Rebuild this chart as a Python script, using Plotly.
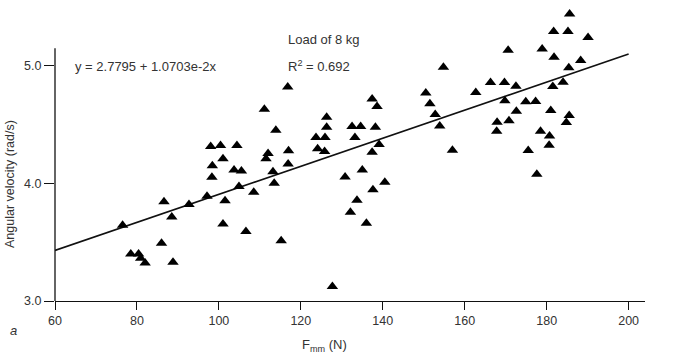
import plotly.graph_objects as go

# Data
f_mm = [76.5, 78.5, 80.4, 80.9, 82.0, 86.0, 86.6, 88.5, 88.8, 92.7,
        97.1, 98.0, 98.4, 98.3, 100.4, 101.0, 101.0, 101.5, 103.7, 104.4,
        105.5, 104.9, 106.6, 108.5, 111.1, 111.5, 112.0, 113.2, 113.5, 113.9,
        115.2, 116.8, 117.0, 116.9, 123.7, 124.1, 125.9, 125.8, 126.3, 126.3,
        127.7, 130.8, 132.1, 132.5, 134.6, 133.2, 133.7, 135.0, 136.0, 137.4,
        138.6, 138.2, 137.4, 139.1, 137.6, 140.5, 150.5, 151.5, 152.8, 153.9,
        154.8, 157.0, 162.7, 166.3, 169.7, 167.9, 167.8, 169.8, 170.6, 170.8,
        172.5, 172.6, 174.9, 177.3, 175.5, 177.6, 178.5, 178.9, 181.0, 180.7,
        180.6, 181.5, 181.7, 181.8, 184.0, 184.8, 185.5, 185.2, 185.4, 185.6,
        188.3, 190.1]
ang_vel = [3.644, 3.40, 3.40, 3.363, 3.323, 3.491, 3.845, 3.715, 3.329, 3.821,
           3.891, 4.313, 4.151, 4.053, 4.322, 4.209, 3.655, 3.853, 4.115, 4.322,
           4.106, 3.973, 3.59, 3.925, 4.631, 4.209, 4.255, 4.10, 4.002, 4.451,
           3.512, 4.819, 4.277, 4.166, 4.39, 4.294, 4.39, 4.271, 4.563, 4.478,
           3.123, 4.055, 3.755, 4.483, 4.483, 4.39, 3.857, 4.115, 3.661, 4.717,
           4.654, 4.478, 4.264, 4.33, 3.945, 4.009, 4.768, 4.677, 4.585, 4.489,
           4.987, 4.281, 4.773, 4.858, 4.858, 4.519, 4.444, 4.702, 5.132, 4.532,
           4.826, 4.614, 4.694, 4.696, 4.279, 4.077, 4.443, 5.142, 4.62, 4.404,
           4.325, 4.824, 5.292, 5.072, 4.861, 4.517, 4.577, 5.292, 4.983, 5.44,
           5.045, 5.241]

fit_x = [60, 200]
fit_y = [3.43, 5.10]

x_ticks = [60, 80, 100, 120, 140, 160, 180, 200]
y_ticks = [3.0, 4.0, 5.0]
y_tick_labels = ["3.0", "4.0", "5.0"]

font_fam = "Liberation Sans, Arial, sans-serif"
txt_col = "#333333"

fig = go.Figure()
fig.add_trace(go.Scatter(x=fit_x, y=fit_y, mode="lines",
                         line=dict(color="#111111", width=1.6),
                         hoverinfo="skip", showlegend=False))
fig.add_trace(go.Scatter(x=f_mm, y=ang_vel, mode="markers",
                         marker=dict(symbol="triangle-up", size=10, color="#000000",
                                     line=dict(width=0)),
                         cliponaxis=False, showlegend=False))

fig.update_layout(
    width=680, height=357,
    margin=dict(l=55, r=35, t=7, b=56),
    paper_bgcolor="white", plot_bgcolor="white",
    font=dict(family=font_fam, size=12, color=txt_col),
    xaxis=dict(range=[60, 204], tickvals=x_ticks, ticks="outside", ticklen=8,
               tickwidth=1.3, tickcolor="#111111", showline=True, linecolor="#111111",
               linewidth=1.3, showgrid=False, zeroline=False,
               tickfont=dict(size=12.5, color=txt_col)),
    yaxis=dict(range=[3.0, 5.5], tickvals=y_ticks, ticktext=y_tick_labels,
               ticks="outside", ticklen=10, tickwidth=1.3, tickcolor="#111111",
               showline=False, showgrid=False, zeroline=False,
               tickfont=dict(size=12.5, color=txt_col)),
    shapes=[dict(type="line", xref="paper", yref="y", x0=0, x1=0, y0=3.0, y1=5.15,
                 line=dict(color="#111111", width=1.3))],
    annotations=[
        dict(text="Load of 8 kg", xref="paper", yref="paper", x=0.456, y=0.891,
             xanchor="center", yanchor="middle", showarrow=False, font=dict(size=13)),
        dict(text="y = 2.7795 + 1.0703e-2x", xref="paper", yref="paper", x=0.031, y=0.799,
             xanchor="left", yanchor="middle", showarrow=False, font=dict(size=13)),
        dict(text="R<sup>2</sup> = 0.692", xref="paper", yref="paper", x=0.3915, y=0.799,
             xanchor="left", yanchor="middle", showarrow=False, font=dict(size=13)),
        dict(text="F<sub>mm</sub> (N)", xref="paper", yref="paper", x=0.4576, y=-0.152,
             xanchor="center", yanchor="middle", showarrow=False, font=dict(size=13)),
        dict(text="Angular velocity (rad/s)", xref="paper", yref="paper", x=-0.0763, y=0.398,
             xanchor="center", yanchor="middle", textangle=-90, showarrow=False,
             font=dict(size=12.5)),
        dict(text="<i>a</i>", xref="paper", yref="paper", x=-0.0707, y=-0.101,
             xanchor="center", yanchor="middle", showarrow=False, font=dict(size=13)),
    ],
)

fig.write_html("out.html", config={"displayModeBar": False},
               post_script="document.body.style.margin='0px';document.body.style.overflow='hidden';")
